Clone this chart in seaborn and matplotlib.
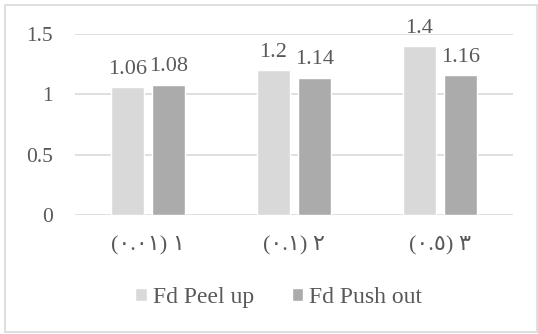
import pandas as pd
import matplotlib.pyplot as plt
import seaborn as sns
from matplotlib.patches import Rectangle

categories = ['(٠.٠١) ١', '(٠.١) ٢', '(٠.٥) ٣']
series = ['Fd Peel up', 'Fd Push out']
peel_up = [1.06, 1.2, 1.4]
push_out = [1.08, 1.14, 1.16]
colors = ['#d9d9d9', '#ababab']

df = pd.DataFrame({
    'cat': categories * 2,
    'series': [series[0]] * 3 + [series[1]] * 3,
    'value': peel_up + push_out,
})

sns.set_style('white')
plt.rcParams['font.family'] = ['Liberation Serif', 'DejaVu Sans']
text_color = '#595959'

fig = plt.figure(figsize=(5.38, 3.34), dpi=100)
ax = fig.add_axes([0.1394, 0.356, 0.814, 0.542])

sns.barplot(data=df, x='cat', y='value', hue='series', palette=colors,
            width=0.57, gap=0.21, ax=ax, legend=True)

ax.set_ylim(0, 1.5)
ax.set_yticks([0, 0.5, 1, 1.5])
ax.set_yticklabels(['0', '0.5', '1', '1.5'])
ax.yaxis.grid(True, color='#d9d9d9', linewidth=1.2)
ax.set_axisbelow(True)
for s in ax.spines.values():
    s.set_visible(False)
ax.set_xlabel('')
ax.set_ylabel('')
ax.set_xlim(-0.5, 2.5)
ax.tick_params(axis='y', length=0, labelsize=15.5, colors=text_color, pad=16)
ax.tick_params(axis='x', length=0, labelsize=16, colors=text_color, pad=15)

for c in ax.containers:
    ax.bar_label(c, labels=[f'{v:g}' for v in c.datavalues], fontsize=16,
                 color=text_color, padding=6)

ax.legend(loc='center', bbox_to_anchor=(0.518, 0.11), bbox_transform=fig.transFigure,
          ncol=2, frameon=False, prop={'family': 'Liberation Serif', 'size': 17},
          labelcolor=text_color, handlelength=0.5, handleheight=0.5,
          handletextpad=0.25, columnspacing=1.6)

fig.patches.append(Rectangle((0.009, 0.006), 0.99, 0.979, transform=fig.transFigure,
                             fill=False, edgecolor='#d9d9d9', linewidth=1.2))

fig.savefig('out.png', dpi=100)
